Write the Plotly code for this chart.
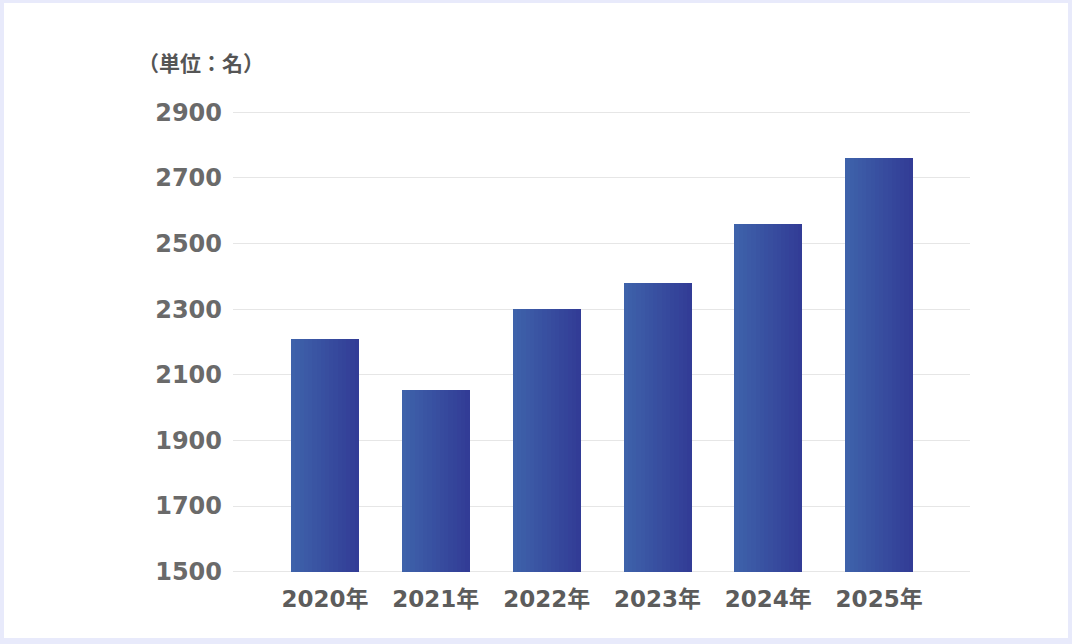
import plotly.graph_objects as go

# データ
years = ["2020年", "2021年", "2022年", "2023年", "2024年", "2025年"]
staff = [2210, 2055, 2300, 2380, 2560, 2760]
y_ticks = [1500, 1700, 1900, 2100, 2300, 2500, 2700, 2900]
y_base = 1500

# 横方向グラデーション（左 -> 右）
left_rgb = (62, 98, 170)
right_rgb = (50, 60, 150)
n_strips = 16
bar_width = 0.61

fig = go.Figure()
for i in range(n_strips):
    t = i / (n_strips - 1)
    c = tuple(round(a + (b - a) * t) for a, b in zip(left_rgb, right_rgb))
    w = bar_width / n_strips
    fig.add_trace(go.Bar(
        x=years, y=[v - y_base for v in staff],
        base=y_base,
        customdata=staff,
        hovertemplate="%{x}: %{customdata}名<extra></extra>",
        width=w * 1.08,
        offset=-bar_width / 2 + i * w,
        marker=dict(color="rgb(%d,%d,%d)" % c, line=dict(width=0)),
        showlegend=False,
        hoverinfo="skip" if i else None,
    ))

# 白いカード背景
top_m, bot_m = 109, 69
ph = 644 - top_m - bot_m
fig.add_shape(type="rect", xref="paper", yref="paper",
              x0=(4 - 233) / 737, x1=(1068 - 233) / 737,
              y0=-(638 - (644 - bot_m)) / ph, y1=((644 - bot_m) - 3) / ph,
              fillcolor="white", line=dict(width=0), layer="below")

fig.add_annotation(text="<b>（単位：名）</b>", xref="paper", yref="paper",
                   x=(136 - 233) / 737, y=((644 - bot_m) - 62) / ph,
                   xanchor="left", yanchor="middle", showarrow=False,
                   font=dict(size=21, color="#555555",
                             family="Noto Sans CJK JP"))

fig.update_layout(
    width=1072, height=644,
    margin=dict(l=233, r=102, t=top_m, b=bot_m),
    paper_bgcolor="#e8eafb",
    plot_bgcolor="rgba(0,0,0,0)",
    barmode="overlay",
    bargap=0,
    font=dict(family="DejaVu Sans, Noto Sans CJK JP", color="#666666"),
    xaxis=dict(
        range=[-0.83, 5.82],
        showgrid=False, showline=False, zeroline=False,
        tickfont=dict(size=23, color="#5c5c5c", weight="bold"),
        ticklabelstandoff=8,
    ),
    yaxis=dict(
        range=[1490, 2910],
        tickvals=y_ticks,
        showgrid=True, gridcolor="#e6e6e6", gridwidth=1,
        zeroline=False, showline=False,
        tickfont=dict(size=24, color="#6a6a6a", weight="bold"),
        ticklabelstandoff=10,
    ),
)

fig.write_html("out.html", config={"displayModeBar": False},
               post_script="document.body.style.margin='0';")
